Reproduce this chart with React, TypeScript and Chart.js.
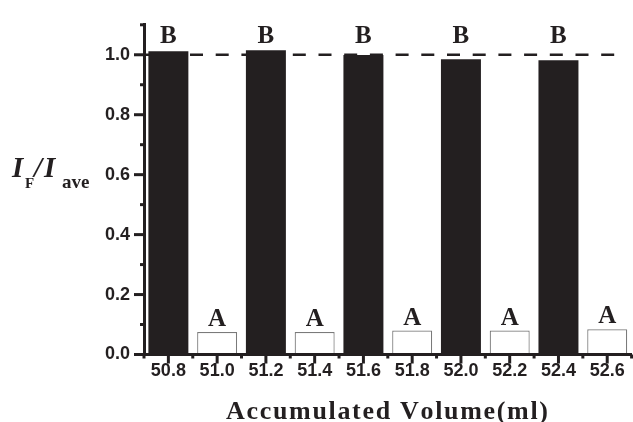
import React, { useEffect, useRef } from "react";
import { Chart, registerables } from "chart.js";

Chart.register(...registerables);

const CATEGORIES = ["50.8", "51.0", "51.2", "51.4", "51.6", "51.8", "52.0", "52.2", "52.4", "52.6"];
const VALUES = [1.012, 0.075, 1.015, 0.075, 0.999, 0.08, 0.985, 0.08, 0.982, 0.084];
const GROUPS = ["B", "A", "B", "A", "B", "A", "B", "A", "B", "A"];
const Y_TICKS = [0, 0.2, 0.4, 0.6, 0.8, 1.0];
const Y_MAX = 1.1;
const REFERENCE = 1.0;
const B_LABEL_LEVEL = 1.04;
const X_TITLE = "Accumulated Volume(ml)";

const INK = "#231f20";

const decor = {
  id: "decor",
  beforeDatasetsDraw(chart: any) {
    const { ctx, chartArea } = chart;
    const y = chart.scales.y.getPixelForValue(REFERENCE);
    ctx.save();
    ctx.strokeStyle = INK;
    ctx.lineWidth = 2.5;
    ctx.setLineDash([13, 12.7]);
    ctx.lineDashOffset = 5.4;
    ctx.beginPath();
    ctx.moveTo(chartArea.left, y);
    ctx.lineTo(chartArea.right - 14, y);
    ctx.stroke();
    ctx.restore();
  },
  afterDraw(chart: any) {
    const { ctx, chartArea } = chart;
    const xs = chart.scales.x;
    const ys = chart.scales.y;
    ctx.save();
    ctx.strokeStyle = INK;
    ctx.lineWidth = 3;
    ctx.lineCap = "butt";
    Y_TICKS.forEach((v) => {
      const p = ys.getPixelForValue(v);
      ctx.beginPath();
      ctx.moveTo(chartArea.left - 10, p);
      ctx.lineTo(chartArea.left, p);
      ctx.stroke();
      if (v + 0.1 <= Y_MAX) {
        const m = ys.getPixelForValue(v + 0.1);
        ctx.beginPath();
        ctx.moveTo(chartArea.left - 4, m);
        ctx.lineTo(chartArea.left, m);
        ctx.stroke();
      }
    });
    const n = CATEGORIES.length;
    for (let i = 0; i < n; i++) {
      const p = xs.getPixelForValue(i);
      ctx.beginPath();
      ctx.moveTo(p, chartArea.bottom);
      ctx.lineTo(p, chartArea.bottom + 9);
      ctx.stroke();
    }
    for (let i = 0; i <= n; i++) {
      const p = xs.getPixelForValue(i - 0.5);
      ctx.beginPath();
      ctx.moveTo(p, chartArea.bottom);
      ctx.lineTo(p, chartArea.bottom + 4);
      ctx.stroke();
    }
    ctx.restore();

    // bar letters
    const meta = chart.getDatasetMeta(0);
    ctx.save();
    ctx.fillStyle = INK;
    ctx.font = 'bold 25px "Liberation Serif"';
    ctx.textAlign = "center";
    ctx.textBaseline = "alphabetic";
    meta.data.forEach((el: any, i: number) => {
      const y = GROUPS[i] === "B" ? ys.getPixelForValue(B_LABEL_LEVEL) : el.y - 6;
      ctx.fillText(GROUPS[i], el.x, y);
    });
    ctx.restore();

    // y title: I_F / I_ave
    ctx.save();
    ctx.fillStyle = INK;
    ctx.textBaseline = "alphabetic";
    ctx.textAlign = "left";
    const base = 177;
    const sub = 188;
    ctx.font = 'italic bold 29px "Liberation Serif"';
    ctx.fillText("I", 12, base);
    ctx.font = 'bold 15px "Liberation Serif"';
    ctx.fillText("F", 25, sub);
    ctx.font = 'italic bold 29px "Liberation Serif"';
    ctx.fillText("/", 34, base);
    ctx.fillText("I", 44, base);
    ctx.font = 'bold 19px "Liberation Serif"';
    ctx.fillText("ave", 62, sub);
    ctx.restore();

    // x title, spread
    ctx.save();
    ctx.fillStyle = INK;
    ctx.font = 'bold 26px "Liberation Serif"';
    ctx.textBaseline = "alphabetic";
    ctx.textAlign = "left";
    const left = 226;
    const right = 548;
    const chars = X_TITLE.split("");
    const widths = chars.map((c) => ctx.measureText(c).width);
    const total = widths.reduce((a, b) => a + b, 0);
    const gap = (right - left - total) / (chars.length - 1);
    let x = left;
    chars.forEach((c, i) => {
      ctx.fillText(c, x, 419);
      x += widths[i] + gap;
    });
    ctx.restore();
  },
};

export default function App() {
  const ref = useRef<HTMLCanvasElement | null>(null);
  useEffect(() => {
    document.body.style.margin = "0";
    const canvas = ref.current!;
    const chart = new Chart(canvas, {
      type: "bar",
      data: {
        labels: CATEGORIES,
        datasets: [
          {
            data: VALUES,
            backgroundColor: GROUPS.map((g) => (g === "B" ? INK : "#ffffff")),
            borderColor: GROUPS.map((g) => (g === "B" ? INK : "#7a7a7a")),
            borderWidth: GROUPS.map((g) => (g === "B" ? 0 : 1.2)),
            barPercentage: 0.82,
            categoryPercentage: 1,
          },
        ],
      },
      options: {
        responsive: false,
        animation: false,
        plugins: { legend: { display: false }, tooltip: { enabled: false } },
        layout: { padding: { left: 0, top: 16, right: 1.4, bottom: 0 } },
        scales: {
          x: {
            type: "category",
            grid: { display: false, drawTicks: false },
            border: { display: true, width: 3, color: INK, z: 1 },
            ticks: {
              font: { family: "Liberation Sans", weight: "bold", size: 18 },
              color: INK,
              padding: 6,
              maxRotation: 0,
              autoSkip: false,
            },
            afterFit: (s: any) => {
              s.height = 67.5;
            },
          },
          y: {
            min: 0,
            max: Y_MAX,
            grid: { display: false, drawTicks: false },
            border: { display: true, width: 3, color: INK, z: 1 },
            ticks: {
              font: { family: "Liberation Sans", weight: "bold", size: 18 },
              color: INK,
              padding: 14,
              callback: (v: any) => Number(v).toFixed(1),
            },
            afterBuildTicks: (s: any) => {
              s.ticks = Y_TICKS.map((v) => ({ value: v }));
            },
            afterFit: (s: any) => {
              s.width = 144;
            },
          },
        },
      },
      plugins: [decor],
    } as any);
    return () => chart.destroy();
  }, []);
  return (
    <div style={{ position: "absolute", left: 0, top: 0, width: 633, height: 422, background: "#fff" }}>
      <canvas ref={ref} width={633} height={422} style={{ display: "block" }} />
    </div>
  );
}
